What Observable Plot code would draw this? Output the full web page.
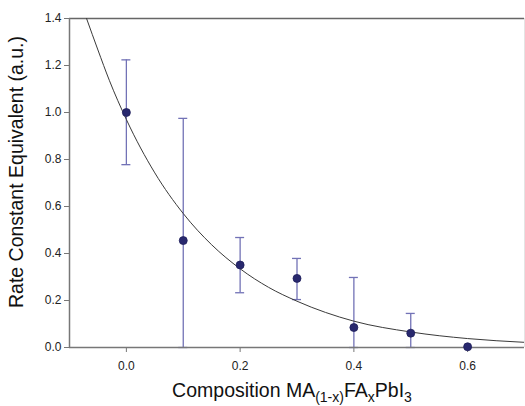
<!DOCTYPE html>
<html>
<head>
<meta charset="utf-8">
<script src="https://cdn.jsdelivr.net/npm/d3@7"></script>
<script src="https://cdn.jsdelivr.net/npm/@observablehq/plot@0.6"></script>
<style>
  html, body { margin: 0; padding: 0; background: #fff; }
  #chart { width: 525px; height: 406px; }
  svg { font-family: "Liberation Sans", Arial, sans-serif; }
</style>
</head>
<body>
<div id="chart"></div>
<script>
// Measured points
const composition = [0.0, 0.1, 0.2, 0.3, 0.4, 0.5, 0.6];
const rate        = [1.000, 0.455, 0.351, 0.294, 0.085, 0.061, 0.003];
const errLow      = [0.778, 0.000, 0.233, 0.204, 0.000, 0.000, 0.003];
const errHigh     = [1.224, 0.975, 0.468, 0.379, 0.298, 0.145, 0.003];

// Fitted curve
const curveX = [-0.07, -0.05, -0.03, 0.0, 0.05, 0.1, 0.15, 0.2, 0.25, 0.3, 0.4, 0.5, 0.6, 0.7];
const curveY = [1.40, 1.266, 1.137, 0.97, 0.743, 0.570, 0.437, 0.335, 0.256, 0.197, 0.112, 0.066, 0.038, 0.022];

const yTicks = [0.0, 0.2, 0.4, 0.6, 0.8, 1.0, 1.2, 1.4];
const xTicks = [0.0, 0.2, 0.4, 0.6];

const points = composition.map((x, i) => ({x, y: rate[i], lo: errLow[i], hi: errHigh[i]}));
const bars = points.filter(d => d.hi - d.lo > 0.01);
const fit = curveX.map((x, i) => ({x, y: curveY[i]}));

const errColor = "#7272b6";
const plot = Plot.plot({
  width: 525,
  height: 406,
  marginLeft: 69,
  marginRight: 1,
  marginTop: 18,
  marginBottom: 59,
  style: {fontFamily: "'Liberation Sans', Arial, sans-serif", fontSize: "12px", color: "#222", background: "#fff"},
  x: {domain: [-0.1, 0.7], label: null},
  y: {domain: [0, 1.4], label: null},
  marks: [
    Plot.ruleY([1.4], {stroke: "#666", strokeWidth: 1.5}),
    Plot.ruleX([0.7], {stroke: "#e4e4e4", strokeWidth: 1}),
    Plot.axisX({ticks: xTicks, tickFormat: d3.format(".1f"), tickSize: 5, tickPadding: 9, stroke: "#777", fill: "#222", fontSize: 12}),
    Plot.axisY({ticks: yTicks, tickFormat: d3.format(".1f"), tickSize: 5, tickPadding: 3, stroke: "#777", fill: "#222", fontSize: 12}),
    Plot.ruleX(bars, {x: "x", y1: "lo", y2: "hi", stroke: errColor, strokeWidth: 1.3}),
    Plot.ruleY(bars, {y: "hi", x1: "x", x2: "x", insetLeft: -4.5, insetRight: -4.5, stroke: errColor, strokeWidth: 1.3}),
    Plot.ruleY(bars, {y: "lo", x1: "x", x2: "x", insetLeft: -4.5, insetRight: -4.5, stroke: errColor, strokeWidth: 1.3}),
    Plot.line(fit, {x: "x", y: "y", curve: "monotone-x", stroke: "#3a3a3a", strokeWidth: 1, clip: true}),
    Plot.ruleY([0], {stroke: "#777", strokeWidth: 1.5}),
    Plot.ruleX([-0.1], {stroke: "#777", strokeWidth: 1.5}),
    Plot.dot(points, {x: "x", y: "y", r: 4, fill: "#28286e", stroke: "#1e1e5a", strokeWidth: 0.8})
  ]
});
document.getElementById("chart").appendChild(plot);

const svg = d3.select(plot);
// Y title
svg.append("text")
  .attr("transform", "translate(18,172) rotate(-90)")
  .attr("text-anchor", "middle")
  .attr("dominant-baseline", "middle")
  .style("font-family", "'Liberation Sans', Arial, sans-serif")
  .style("font-size", "19.5px")
  .attr("fill", "#111")
  .text("Rate Constant Equivalent (a.u.)");
// X title with subscripts
const xt = svg.append("text")
  .attr("x", 292).attr("y", 397)
  .attr("text-anchor", "middle")
  .style("font-family", "'Liberation Sans', Arial, sans-serif")
  .style("font-size", "19.5px")
  .attr("fill", "#111");
xt.append("tspan").text("Composition MA");
xt.append("tspan").attr("dy", 5).style("font-size", "14px").text("(1-x)");
xt.append("tspan").attr("dy", -5).text("FA");
xt.append("tspan").attr("dy", 5).style("font-size", "14px").text("x");
xt.append("tspan").attr("dy", -5).text("PbI");
xt.append("tspan").attr("dy", 5).style("font-size", "14px").text("3");
</script>
</body>
</html>
